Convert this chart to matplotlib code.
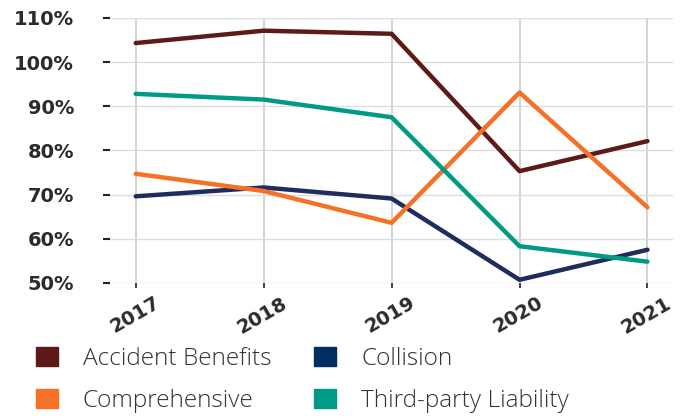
import matplotlib
matplotlib.use('Agg')
import matplotlib.pyplot as plt
from matplotlib.patches import Patch
from matplotlib.ticker import FuncFormatter
import matplotlib.transforms as mtransforms

years = ['2017', '2018', '2019', '2020', '2021']
accident_benefits = [104.3, 107.1, 106.4, 75.3, 82.1]
collision = [69.6, 71.6, 69.1, 50.7, 57.5]
comprehensive = [74.7, 70.8, 63.6, 93.1, 67.1]
third_party = [92.8, 91.5, 87.5, 58.3, 54.8]

names = ['Accident Benefits', 'Collision', 'Comprehensive', 'Third-party Liability']
colors = ['#5c1a18', '#1e2c5e', '#f47126', '#009b86']
legend_colors = ['#5c1a18', '#002d62', '#f47126', '#009b86']

fig = plt.figure(figsize=(6.84, 4.16), dpi=100)
ax = fig.add_axes([0.161, 0.32, 0.823, 0.637])

x = list(range(len(years)))
for vals, c in zip([accident_benefits, collision, comprehensive, third_party], colors):
  ax.plot(x, vals, color=c, lw=3.2, solid_capstyle='round', zorder=3)

ax.set_xlim(-0.2, 4.2)
ax.set_ylim(50, 110)
ax.set_yticks(range(50, 111, 10))
ax.yaxis.set_major_formatter(FuncFormatter(lambda v, p: '%d%%' % v))
ax.set_xticks(x)
ax.set_xticklabels(years, rotation=30, ha='center', va='top')

for s in ax.spines.values():
  s.set_visible(False)
ax.grid(True, color='#dddddd', lw=1, zorder=0)
ax.xaxis.grid(True, color='#cccccc', lw=1.2)
ax.tick_params(axis='y', length=5, width=1.5, pad=21, color='#222222')
ax.tick_params(axis='x', length=3.6, width=1.2, pad=4, color='#222222')
shift = mtransforms.ScaledTranslation(-0.01, 0, fig.dpi_scale_trans)
for lab in ax.get_xticklabels():
  lab.set_transform(lab.get_transform() + shift)
for lab in ax.get_yticklabels() + ax.get_xticklabels():
  lab.set_fontweight('bold')
  lab.set_fontsize(14)
  lab.set_color('#2b2b2b')

handles = [Patch(color=c) for c in legend_colors]
order = [0, 2, 1, 3]
fig.legend([handles[i] for i in order], [names[i] for i in order], ncol=2,
           loc='upper left', bbox_to_anchor=(36 / 684, 1 - 347 / 416), frameon=False,
           prop={'family': 'Open Sans', 'weight': 'light', 'size': 17.6},
           labelcolor='#333333', handlelength=0.9, handleheight=0.82,
           handletextpad=1.02, columnspacing=1.75, labelspacing=0.72, borderpad=0,
           borderaxespad=0)

fig.savefig('out.png', dpi=100)
